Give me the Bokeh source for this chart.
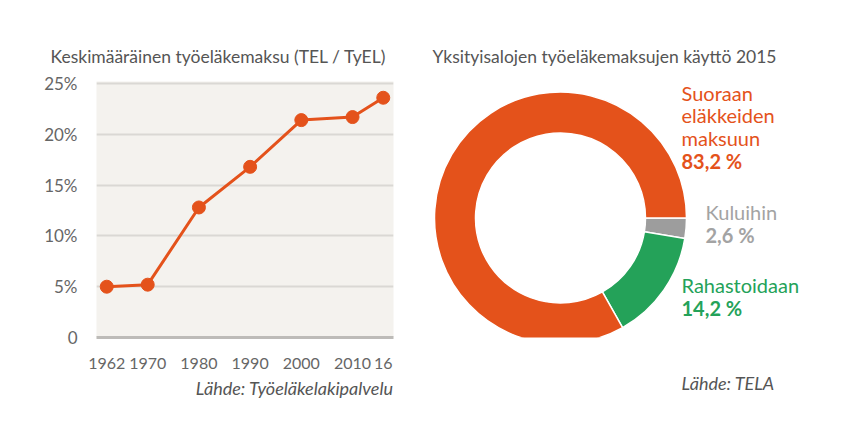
import math
from bokeh.plotting import figure
from bokeh.layouts import row
from bokeh.models import FixedTicker, Title, ColumnDataSource
from bokeh.core.properties import value
from bokeh.embed import file_html
from bokeh.resources import INLINE

# ---- data ----
years = [1962, 1970, 1980, 1990, 2000, 2010, 2016]
rates = [5.0, 5.2, 12.8, 16.8, 21.4, 21.7, 23.6]
x_tick_labels = {2016: "16"}
y_ticks = [0, 5, 10, 15, 20, 25]
y_tick_labels = {0: "0", 5: "5%", 10: "10%", 15: "15%", 20: "20%", 25: "25%"}

donut_labels = ["Kuluihin", "Rahastoidaan", "Suoraan eläkkeiden maksuun"]
donut_values = [2.6, 14.2, 83.2]
donut_value_text = ["2,6 %", "14,2 %", "83,2 %"]

left_title = "Keskimääräinen työeläkemaksu (TEL / TyEL)"
right_title = "Yksityisalojen työeläkemaksujen käyttö 2015"
left_source = "Lähde: Työeläkelakipalvelu"
right_source = "Lähde: TELA"

ORANGE = "#e4521b"
GREEN = "#24a259"
GREY = "#9d9d9d"
GREY_TEXT = "#a3a3a3"
TEXT = "#555555"
FONT = "Lato"

H = 439
TOP, BOTTOM = 81, 337   # frame top / bottom in page pixels (shared by both plots)

def style_title(t, size="17.5px"):
    t.text_font = FONT
    t.text_font_size = size
    t.text_color = TEXT
    t.text_font_style = "normal"

# ---- left: line chart ----
p1 = figure(width=424, height=H, output_backend="svg", toolbar_location=None,
            x_range=(1960, 2018), y_range=(0, 25.2),
            min_border_left=96, min_border_right=31, min_border_top=TOP,
            min_border_bottom=H - BOTTOM)
p1.background_fill_color = "#f4f2ee"
p1.border_fill_color = "white"
p1.outline_line_color = None
p1.xgrid.grid_line_color = None
p1.ygrid.grid_line_color = "#dad8d4"
p1.ygrid.grid_line_width = 2
p1.ygrid.ticker = FixedTicker(ticks=y_ticks)

p1.xaxis.ticker = FixedTicker(ticks=years)
p1.xaxis.major_label_overrides = x_tick_labels
p1.yaxis.ticker = FixedTicker(ticks=y_ticks)
p1.yaxis.major_label_overrides = y_tick_labels
for ax in (p1.xaxis, p1.yaxis):
    ax.major_tick_line_color = None
    ax.minor_tick_line_color = None
    ax.major_label_text_font = FONT
    ax.major_label_text_font_size = "16px"
    ax.major_label_text_color = "#666666"
p1.yaxis.major_label_text_font_size = "17px"
p1.yaxis.axis_line_color = None
p1.yaxis.major_label_standoff = 13
p1.xaxis.axis_line_color = "#bdbbb8"
p1.xaxis.axis_line_width = 3
p1.xaxis.major_label_standoff = 14

src = ColumnDataSource(dict(x=years, y=rates))
p1.line("x", "y", source=src, line_color=ORANGE, line_width=3)
p1.scatter("x", "y", source=src, size=13, fill_color=ORANGE, line_color=ORANGE)

p1.title.text = left_title
p1.title.align = "left"
p1.title.offset = -46
p1.title.standoff = 29
style_title(p1.title)
src1 = Title(text=left_source, align="right", standoff=6)
style_title(src1, "18px")
src1.text_font_style = "italic"
p1.add_layout(src1, "below")

# ---- right: donut (data units = page pixels) ----
p2 = figure(width=424, height=H, output_backend="svg", toolbar_location=None,
            x_range=(0, 424), y_range=(H - BOTTOM, H - TOP),
            min_border_left=0, min_border_right=0,
            min_border_top=TOP, min_border_bottom=H - BOTTOM)
p2.axis.visible = False
p2.grid.visible = False
p2.outline_line_color = None
p2.background_fill_color = "white"
p2.border_fill_color = "white"

p2.title.text = right_title
p2.title.align = "left"
p2.title.offset = 8
p2.title.standoff = 29
style_title(p2.title)
src2 = Title(text=right_source, align="left", offset=257, standoff=65)
style_title(src2, "18px")
src2.text_font_style = "italic"
p2.add_layout(src2, "below")

total = sum(donut_values)
cum = 0.0
starts, ends = [], []
for v in donut_values:
    a0 = cum / total * 2 * math.pi
    cum += v
    a1 = cum / total * 2 * math.pi
    # clockwise from 3 o'clock
    starts.append(-a1)
    ends.append(-a0)
cx, cy = 136, H - 217.5
dsrc = ColumnDataSource(dict(x=[cx] * 3, y=[cy] * 3, start=starts, end=ends,
                             color=[GREY, GREEN, ORANGE], label=donut_labels))
p2.annular_wedge("x", "y", inner_radius=85, outer_radius=126, start_angle="start",
                 end_angle="end", direction="anticlock", fill_color="color",
                 line_color="white", line_width=1.5, source=dsrc)

def txt(x, y, t, color, bold=False, size="20px"):
    p2.text(x=[x], y=[H - y], text=[t], text_font=value(FONT), text_font_size=size,
            text_color=color, text_font_style="bold" if bold else "normal",
            text_baseline="middle", text_align="left")

txt(257, 92, "Suoraan", ORANGE)
txt(257, 114, "eläkkeiden", ORANGE)
txt(257, 137, "maksuun", ORANGE)
txt(257, 160, donut_value_text[2], ORANGE, bold=True)
txt(281, 211, donut_labels[0], GREY_TEXT)
txt(281, 234, donut_value_text[0], GREY_TEXT, bold=True)
txt(257, 284, donut_labels[1], GREEN)
txt(257, 307, donut_value_text[1], GREEN, bold=True)

layout = row(p1, p2, spacing=0)
open("out.html", "w").write(file_html(layout, INLINE))
